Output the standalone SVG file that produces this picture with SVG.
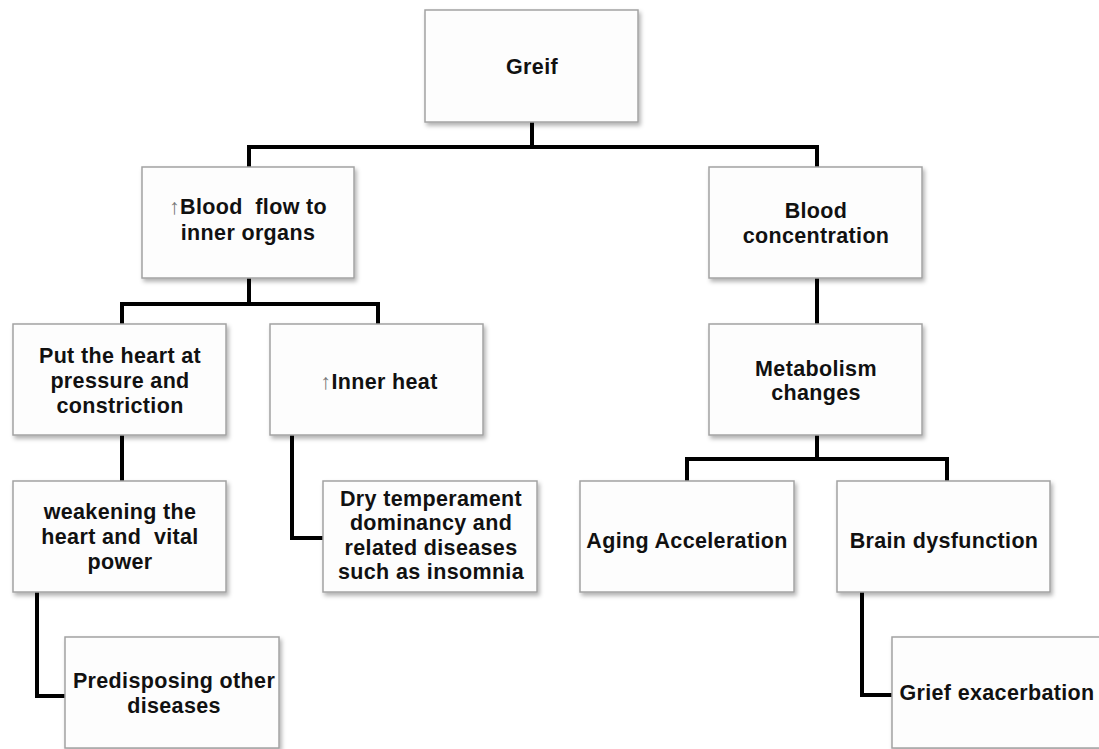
<svg xmlns="http://www.w3.org/2000/svg" width="1099" height="749" viewBox="0 0 1099 749">
<style>
.box{fill:#fdfdfd;stroke:#a3a3a3;stroke-width:1.5;filter:url(#sh)}
.t{font-family:"Liberation Sans",Arial,sans-serif;font-weight:bold;font-size:21.5px;letter-spacing:0.35px;fill:#111;text-anchor:middle}
.ar{font-weight:normal;fill:#777}
.c{fill:none;stroke:#000;stroke-width:4;stroke-linejoin:miter}
</style>
<defs>
<filter id="sh" x="-10%" y="-10%" width="125%" height="130%">
<feDropShadow dx="2" dy="3" stdDeviation="2" flood-color="#000" flood-opacity="0.3"/>
</filter>
</defs>
<rect width="1099" height="749" fill="#fff"/>
<g id="connectors">
<path class="c" d="M532 122V147M249 167V147H817V167"/>
<path class="c" d="M249 278V304M122 324V304H378V324"/>
<path class="c" d="M817 278V324"/>
<path class="c" d="M817 435V459M687 481V459H947V481"/>
<path class="c" d="M122 435V481"/>
<path class="c" d="M292 435V538H323"/>
<path class="c" d="M37 592V696H65"/>
<path class="c" d="M862 592V695H892"/>
</g>
<g id="greif"><rect class="box" x="425" y="10" width="213" height="112"/><text class="t" x="532" y="74">Greif</text></g>
<g id="blood-flow"><rect class="box" x="142" y="167" width="212" height="111"/><text class="t" x="248" y="214" xml:space="preserve"><tspan class="ar">↑</tspan>Blood  flow to</text><text class="t" x="248" y="240">inner organs</text></g>
<g id="blood-concentration"><rect class="box" x="709" y="167" width="213" height="111"/><text class="t" x="816" y="218">Blood</text><text class="t" x="816" y="243">concentration</text></g>
<g id="put-heart"><rect class="box" x="13" y="324" width="213" height="111"/><text class="t" x="120" y="363">Put the heart at</text><text class="t" x="120" y="388">pressure and</text><text class="t" x="120" y="413">constriction</text></g>
<g id="inner-heat"><rect class="box" x="270" y="324" width="213" height="111"/><text class="t" x="379" y="389"><tspan class="ar">↑</tspan>Inner heat</text></g>
<g id="metabolism"><rect class="box" x="709" y="324" width="213" height="111"/><text class="t" x="816" y="376">Metabolism</text><text class="t" x="816" y="400">changes</text></g>
<g id="weakening"><rect class="box" x="13" y="481" width="213" height="111"/><text class="t" x="120" y="519">weakening the</text><text class="t" x="120" y="544" xml:space="preserve">heart and  vital</text><text class="t" x="120" y="569">power</text></g>
<g id="dry-temperament"><rect class="box" x="323" y="481" width="214" height="111"/><text class="t" x="431" y="506">Dry temperament</text><text class="t" x="431" y="530">dominancy and</text><text class="t" x="431" y="555">related diseases</text><text class="t" x="431" y="579">such as insomnia</text></g>
<g id="aging"><rect class="box" x="580" y="481" width="214" height="111"/><text class="t" x="687" y="548">Aging Acceleration</text></g>
<g id="brain"><rect class="box" x="837" y="481" width="213" height="111"/><text class="t" x="944" y="548">Brain dysfunction</text></g>
<g id="predisposing"><rect class="box" x="65" y="637" width="214" height="111"/><text class="t" x="174" y="688">Predisposing other</text><text class="t" x="174" y="713">diseases</text></g>
<g id="grief-exacerbation"><rect class="box" x="892" y="637" width="214" height="111"/><text class="t" x="997" y="700">Grief exacerbation</text></g>
</svg>
